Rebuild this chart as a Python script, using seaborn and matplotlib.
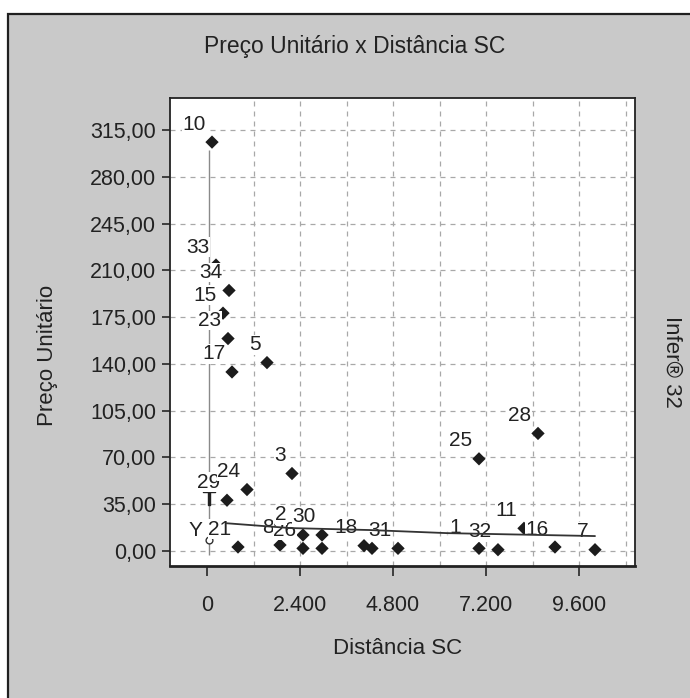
import matplotlib
matplotlib.use('Agg')
import matplotlib.pyplot as plt
import matplotlib.patches as mpatches
import seaborn as sns
import pandas as pd

# point ids, distance (x) and unit price (y)
ids = ['10', '33', '34', '15', '23', '17', '5', '3', '28', '25', '29', '24',
       '21', '8', '26', '2', '30', '', '18', '', '31', '1', '32', '11', '16', '7']
dist = [129, 232, 568, 413, 542, 645, 1548, 2193, 8542, 7019, 516, 1032,
        800, 1884, 2477, 2477, 2968, 2968, 4052, 4258, 4929, 7019, 7509, 8180, 8980, 10013]
price = [306, 214, 195, 178, 159, 134, 141, 58, 88, 69, 38, 46,
         3, 4.5, 2, 12, 12, 2, 4, 2, 2, 2, 1, 17, 3, 1]

# hollow point and the T mark on the vertical line
y_point = (52, 8)
t_point = (52, 40)

# fitted curve
fit_x = [500, 2142, 4206, 6194, 6194, 10013]
fit_y = [20.8, 17.2, 15.7, 15.0, 11.8, 11.2]

y_ticks = [0, 35, 70, 105, 140, 175, 210, 245, 280, 315]
x_ticks = [0, 2400, 4800, 7200, 9600]

df = pd.DataFrame({'id': ids, 'dist': dist, 'price': price})

sns.set_theme(style='white')
plt.rcParams['font.family'] = ['Liberation Sans', 'DejaVu Sans']

fig = plt.figure(figsize=(6.9, 6.98), dpi=100)
fig.patch.set_facecolor('white')

# gray panel with dark border (scanned window)
panel = mpatches.Rectangle((8 / 690, -0.01), 1.0, 1 - 14 / 698 + 0.01,
                           transform=fig.transFigure, facecolor='#c9c9c9',
                           edgecolor='#202020', linewidth=1.6, zorder=-5)
fig.patches.append(panel)

ax = fig.add_axes([170 / 690, 1 - 566 / 698, 465 / 690, 468 / 698])
ax.set_zorder(2)
ax.set_facecolor('white')

ax.set_xlim(-955, 11045)
ax.set_ylim(-11.2, 339)

# dashed grid: every 35 on y, every 1200 on x
for yv in y_ticks:
    ax.axhline(yv, color='#a8a8a8', lw=0.9, ls=(0, (4, 4)), zorder=0.5)
for xv in range(1200, 11000, 1200):
    ax.axvline(xv, color='#a8a8a8', lw=0.9, ls=(0, (4, 4)), zorder=0.5)

ax.vlines(52, -3, 300, color='#8a8a8a', lw=1.0, zorder=1)

sns.scatterplot(data=df, x='dist', y='price', marker='D', s=46,
                color='#1c1c1c', edgecolor='none', ax=ax, zorder=2, legend=False)
ax.scatter([y_point[0]], [y_point[1]], marker='o', s=24, facecolor='white',
           edgecolor='#333333', linewidth=1.0, zorder=2)
ax.scatter([t_point[0]], [t_point[1]], marker='$\\mathsf{T}$', s=110,
           color='#222222', zorder=2)

# point labels with white boxes, offset up-left of the marker
special = {'2': (-22, 20), '1': (-24, 21)}
for lab, xv, yv in zip(ids, dist, price):
    if not lab:
        continue
    off = special.get(lab, (-18 if len(lab) == 2 else -12, 18))
    ax.annotate(lab, (xv, yv), xytext=off, textcoords='offset pixels',
                ha='center', va='center', fontsize=15, color='#222222',
                bbox=dict(boxstyle='square,pad=0.02', fc='white', ec='none'),
                zorder=3)
ax.annotate('Y', y_point, xytext=(-14, 10), textcoords='offset pixels',
            ha='center', va='center', fontsize=15, color='#222222', zorder=3)

sns.lineplot(x=fit_x, y=fit_y, sort=False, color='#333333', lw=1.3, ax=ax, zorder=4)

ax.set_yticks(y_ticks)
ax.set_yticklabels([f'{v:.2f}'.replace('.', ',') for v in y_ticks])
ax.set_xticks(x_ticks)
ax.set_xticklabels([f'{v:,}'.replace(',', '.') for v in x_ticks])
ax.tick_params(axis='y', length=6, width=1.2, pad=4, labelsize=15.5,
               labelcolor='#222222', left=True)
ax.tick_params(axis='x', length=7, width=1.2, pad=14, labelsize=15.5,
               labelcolor='#222222', bottom=True)
ax.set_xlabel('')
ax.set_ylabel('')

for side in ['left', 'top', 'right']:
    ax.spines[side].set_color('#222222')
    ax.spines[side].set_linewidth(1.3)
ax.spines['bottom'].set_color('#222222')
ax.spines['bottom'].set_linewidth(2.0)

fig.text(355 / 690, 1 - 47 / 698, 'Preço Unitário x Distância SC',
         ha='center', va='center', fontsize=16.5, color='#222222')
fig.text(398 / 690, 1 - 648 / 698, 'Distância SC', ha='center', va='center',
         fontsize=16, color='#222222')
fig.text(47 / 690, 1 - 355 / 698, 'Preço Unitário', ha='center', va='center',
         rotation=90, fontsize=16, color='#222222')
fig.text(672 / 690, 1 - 362 / 698, 'Infer® 32', ha='center', va='center',
         rotation=-90, fontsize=16, color='#222222')

fig.savefig('out.png', dpi=100)
